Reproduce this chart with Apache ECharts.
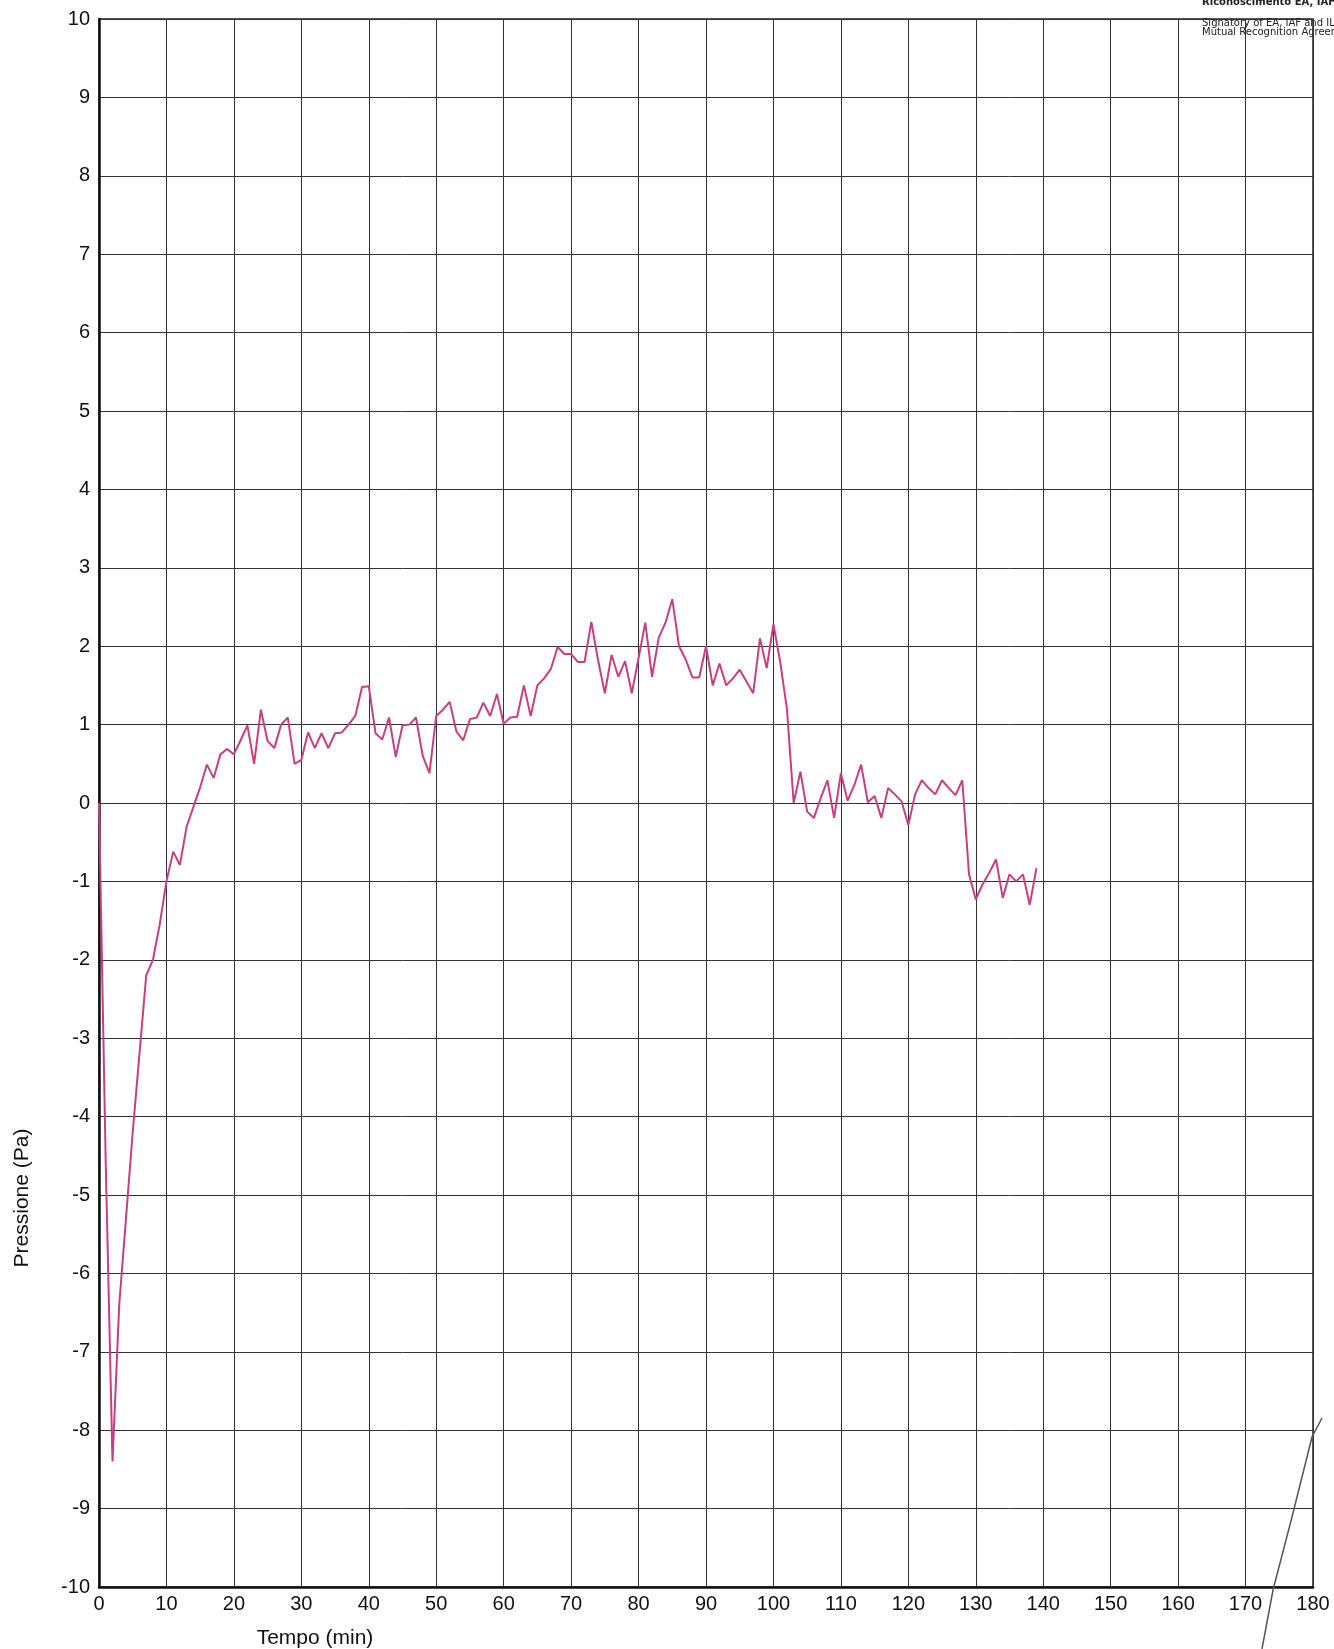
<!DOCTYPE html>
<html>
<head>
<meta charset="utf-8">
<script src="https://cdn.jsdelivr.net/npm/echarts@6/dist/echarts.min.js"></script>
<style>
html,body{margin:0;padding:0;background:#fff;}
#chart{width:1334px;height:1649px;}
</style>
</head>
<body>
<div id="chart"></div>
<script>
// Time (min)
const minutes = [
  0,1,2,3,4,5,6,7,8,9,10,11,12,13,14,15,16,17,18,19,
  20,21,22,23,24,25,26,27,28,29,30,31,32,33,34,35,36,37,38,39,
  40,41,42,43,44,45,46,47,48,49,50,51,52,53,54,55,56,57,58,59,
  60,61,62,63,64,65,66,67,68,69,70,71,72,73,74,75,76,77,78,79,
  80,81,82,83,84,85,86,87,88,89,90,91,92,93,94,95,96,97,98,99,
  100,101,102,103,104,105,106,107,108,109,110,111,112,113,114,115,116,117,118,119,
  120,121,122,123,124,125,126,127,128,129,130,131,132,133,134,135,136,137,138,139
];
// Pressione (Pa)
const pressure = [
  0,-4.6,-8.4,-6.4,-5.3,-4.2,-3.2,-2.2,-2.0,-1.55,-1.0,-0.62,-0.79,-0.3,-0.05,0.2,0.49,0.32,0.62,0.69,
  0.62,0.8,0.99,0.5,1.19,0.79,0.70,1.0,1.09,0.50,0.55,0.90,0.70,0.89,0.70,0.89,0.90,1.0,1.11,1.48,
  1.49,0.89,0.81,1.09,0.59,0.99,1.0,1.09,0.60,0.38,1.11,1.19,1.29,0.91,0.80,1.07,1.09,1.28,1.11,1.39,
  1.01,1.09,1.10,1.50,1.11,1.50,1.59,1.71,1.99,1.90,1.90,1.80,1.80,2.31,1.82,1.40,1.89,1.61,1.81,1.40,
  1.85,2.30,1.61,2.11,2.30,2.60,2.0,1.83,1.60,1.60,2.0,1.50,1.78,1.50,1.59,1.70,1.55,1.40,2.10,1.72,
  2.28,1.8,1.2,0.0,0.40,-0.11,-0.19,0.06,0.29,-0.19,0.38,0.03,0.23,0.49,0.01,0.09,-0.19,0.19,0.11,0.02,
  -0.28,0.11,0.29,0.19,0.11,0.29,0.19,0.10,0.29,-0.91,-1.23,-1.04,-0.89,-0.72,-1.21,-0.91,-1.0,-0.91,-1.30,-0.83
];
const xAxisTitle = 'Tempo (min)';
const yAxisTitle = 'Pressione (Pa)';

const seriesData = minutes.map((m, i) => [m, pressure[i]]);

const chart = echarts.init(document.getElementById('chart'), null, {renderer: 'canvas'});
const labelFont = {fontFamily: 'Liberation Sans, Arial, sans-serif', fontSize: 20, color: '#111'};

chart.setOption({
  animation: false,
  backgroundColor: '#ffffff',
  grid: {left: 99, top: 19, width: 1214, height: 1568, show: true, borderColor: '#222', borderWidth: 1.5, containLabel: false},
  xAxis: {
    type: 'value', min: 0, max: 180, interval: 10,
    axisLine: {show: true, onZero: false, lineStyle: {color: '#111', width: 2.5}},
    axisTick: {show: false},
    axisLabel: Object.assign({margin: 7, showMaxLabel: true, showMinLabel: true}, labelFont),
    splitLine: {show: true, lineStyle: {color: '#333', width: 1}}
  },
  yAxis: {
    type: 'value', min: -10, max: 10, interval: 1,
    axisLine: {show: true, onZero: false, lineStyle: {color: '#111', width: 2.5}},
    axisTick: {show: false},
    axisLabel: Object.assign({margin: 9}, labelFont),
    splitLine: {show: true, lineStyle: {color: '#333', width: 1}}
  },
  series: [{
    type: 'line',
    data: seriesData,
    showSymbol: false,
    symbol: 'none',
    lineStyle: {color: '#c63f82', width: 2},
    z: 5
  }],
  graphic: [
    {type: 'text', x: 315, y: 1638, style: {text: xAxisTitle, font: '21px "Liberation Sans", Arial, sans-serif', fill: '#111', align: 'center', verticalAlign: 'middle'}},
    {type: 'text', x: 22, y: 1198, rotation: Math.PI / 2, style: {text: yAxisTitle, font: '21px "Liberation Sans", Arial, sans-serif', fill: '#111', align: 'center', verticalAlign: 'middle'}},
    {type: 'text', x: 1202, y: -3, style: {text: 'Riconoscimento EA, IAF e ILAC', font: 'bold 10px "DejaVu Sans", sans-serif', fill: '#222'}},
    {type: 'text', x: 1202, y: 18, style: {text: 'Signatory of EA, IAF and ILAC', font: '10px "DejaVu Sans", sans-serif', fill: '#222'}},
    {type: 'text', x: 1202, y: 27, style: {text: 'Mutual Recognition Agreements', font: '10px "DejaVu Sans", sans-serif', fill: '#222'}},
    {type: 'polyline', shape: {points: [[1322, 1418], [1312, 1437], [1292, 1517], [1273, 1590], [1262, 1649]]}, style: {stroke: '#555', lineWidth: 1.5, fill: null}, z: 10}
  ]
});
</script>
</body>
</html>
